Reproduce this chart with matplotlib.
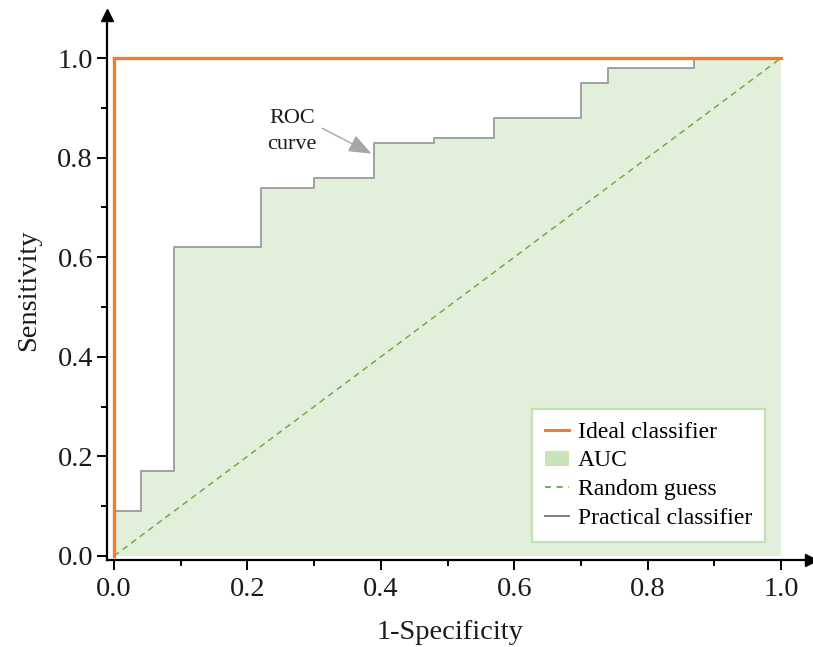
import numpy as np
import matplotlib
matplotlib.use("Agg")
import matplotlib.pyplot as plt
from matplotlib.lines import Line2D
from matplotlib.patches import Patch

# Practical classifier ROC steps
fpr = [0.0, 0.0, 0.04, 0.09, 0.22, 0.30, 0.39, 0.48, 0.57, 0.70, 0.74, 0.87, 1.0]
tpr = [0.0, 0.09, 0.17, 0.62, 0.74, 0.76, 0.83, 0.84, 0.88, 0.95, 0.98, 1.0, 1.0]

ideal_x = [0.0, 0.0, 1.0]
ideal_y = [0.0, 1.0, 1.0]

random_x = [0.0, 1.0]
random_y = [0.0, 1.0]

xticks = [0.0, 0.2, 0.4, 0.6, 0.8, 1.0]
yticks = [0.0, 0.2, 0.4, 0.6, 0.8, 1.0]
legend_labels = ["Ideal classifier", "AUC", "Random guess", "Practical classifier"]

ORANGE = "#ed7d31"
FILL = "#e2efda"
GREEN = "#70ad47"
GRAY = "#a0a0a0"
TXT = "#1a1a1a"

serif = ["Liberation Serif", "DejaVu Serif"]

fig = plt.figure(figsize=(8.13, 6.47), dpi=100)
ax = fig.add_axes([0.1316, 0.1345, 0.866, 0.842])

ax.fill_between(fpr, tpr, step="post", color=FILL, linewidth=0, zorder=1)
ax.plot(random_x, random_y, color=GREEN, linestyle=(0, (4, 3)), linewidth=1.1, zorder=2)
ax.plot(fpr, tpr, drawstyle="steps-post", color=GRAY, linewidth=1.4, zorder=3)
ax.plot(ideal_x, ideal_y, color=ORANGE, linewidth=2.4, zorder=4, solid_joinstyle="miter")

ax.set_xlim(-0.0105, 1.045)
ax.set_ylim(-0.008, 1.086)

for s in ["top", "right"]:
    ax.spines[s].set_visible(False)
for s in ["left", "bottom"]:
    ax.spines[s].set_linewidth(1.6)

ax.set_xticks(xticks)
ax.set_yticks(yticks)
ax.set_xticks(np.arange(0.1, 1.0, 0.2), minor=True)
ax.set_yticks(np.arange(0.1, 1.0, 0.2), minor=True)
ax.set_xticklabels([f"{v:.1f}" for v in xticks])
ax.set_yticklabels([f"{v:.1f}" for v in yticks])
ax.tick_params(which="major", length=7, width=1.4, labelsize=20.5)
ax.tick_params(axis="y", which="major", pad=3)
ax.tick_params(axis="x", which="major", pad=5)
ax.tick_params(which="minor", length=4.5, width=1.4)
for lab in ax.get_xticklabels() + ax.get_yticklabels():
    lab.set_family(serif)
    lab.set_color(TXT)

ax.set_xlabel("1-Specificity", family=serif, fontsize=20.5, color=TXT)
ax.set_ylabel("Sensitivity", family=serif, fontsize=20.5, color=TXT)
ax.xaxis.set_label_coords(0.487, -0.111)
ax.yaxis.set_label_coords(-0.094, 0.495)

# axis arrows
ax.plot(1, 0, marker=">", color="black", markersize=9, transform=ax.transAxes, clip_on=False)
ax.plot(0, 1, marker="^", color="black", markersize=9, transform=ax.transAxes, clip_on=False)

# annotation
ax.text(0.267, 0.852, "ROC\ncurve", ha="center", va="center", family=serif,
        fontsize=16, color=TXT, linespacing=1.5)
ax.annotate("", xy=(0.386, 0.808), xytext=(0.312, 0.859),
            arrowprops=dict(arrowstyle="-|>,head_length=1.4,head_width=0.55",
                            color="#a6a6a6", lw=1.0, shrinkA=0, shrinkB=0))

handles = [
    Line2D([], [], color=ORANGE, linewidth=2.2),
    Patch(facecolor="#c9e2b9", edgecolor="none"),
    Line2D([], [], color=GREEN, linestyle=(0, (3, 3)), linewidth=1.4),
    Line2D([], [], color="#7f7f7f", linewidth=1.4),
]
leg = ax.legend(handles, legend_labels, loc="lower right", bbox_to_anchor=(0.935, 0.033),
                borderaxespad=0, fancybox=False, framealpha=1, edgecolor="#c5e0b4",
                prop={"family": serif, "size": 17}, handlelength=1.0, handleheight=0.6,
                handletextpad=0.4, labelspacing=0.33, borderpad=0.55)
leg.get_frame().set_linewidth(1.6)

fig.savefig("out.png", dpi=100)
